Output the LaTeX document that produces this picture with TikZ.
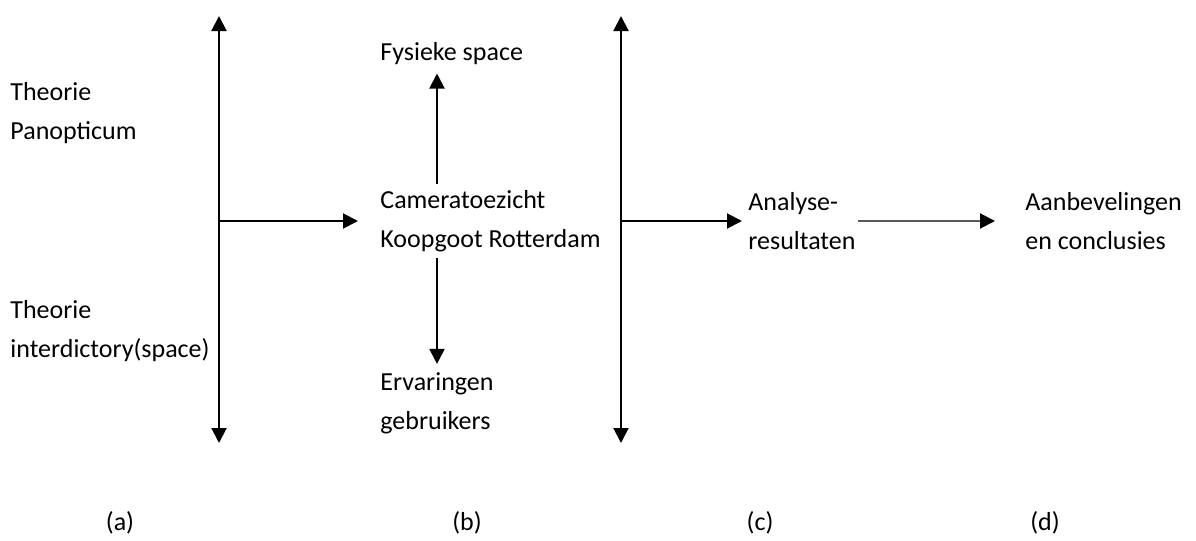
\documentclass[tikz,border=0pt]{standalone}
\usepackage{fontspec}
\setmainfont{Carlito}
\usetikzlibrary{arrows.meta}

\tikzset{
  lbl/.style={anchor=west, align=left, inner sep=0pt, font=\fontsize{13}{19.5}\selectfont},
  tag/.style={inner sep=0pt, font=\fontsize{13}{15}\selectfont},
  arr/.style={-{Triangle[length=7.5pt,width=7.5pt,color=black]}, line width=1pt},
  darr/.style={{Triangle[length=7.5pt,width=7.5pt]}-{Triangle[length=7.5pt,width=7.5pt]}, line width=1pt},
}

\begin{document}
\begin{tikzpicture}[x=0.5pt,y=-0.5pt]
  \useasboundingbox (0,0) rectangle (1196,541);

  % column (a)
  \node[lbl] (panop) at (10,113) {Theorie\\Panopticum};
  \node[lbl] (inter) at (10,331) {Theorie\\interdictory(space)};
  \coordinate (atop) at (219,16);
  \coordinate (abot) at (219,443);
  \coordinate (amid) at (219,221);

  % column (b)
  \node[lbl] (fys) at (380,54) {Fysieke space};
  \node[lbl] (cam) at (380,221) {Cameratoezicht\\Koopgoot Rotterdam};
  \node[lbl] (erv) at (380,403) {Ervaringen\\gebruikers};
  \coordinate (bx) at (437,0);

  % column (c) and (d)
  \coordinate (ctop) at (621,16);
  \coordinate (cbot) at (621,443);
  \coordinate (cmid) at (621,221);
  \node[lbl] (ana) at (748,221) {Analyse-\\resultaten};
  \node[lbl] (aanb) at (1025,221) {Aanbevelingen\\en conclusies};

  % labels
  \node[tag] (la) at (120,523) {(a)};
  \node[tag] (lb) at (467,523) {(b)};
  \node[tag] (lc) at (760,523) {(c)};
  \node[tag] (ld) at (1045,523) {(d)};

  % connectors
  \draw[darr] (atop) -- (abot);
  \draw[darr] (ctop) -- (cbot);
  \draw[arr, shorten >=11pt] (amid) -- (amid -| cam.west);
  \draw[arr, shorten >=3pt] (cmid) -- (cmid -| ana.west);
  \draw[arr, draw=black!65, shorten <=1pt, shorten >=15pt] (cmid -| ana.east) -- (cmid -| aanb.west);
  \draw[arr, shorten <=3pt, shorten >=4pt] (cam.north -| bx) -- (fys.south -| bx);
  \draw[arr, shorten <=3pt, shorten >=4pt] (cam.south -| bx) -- (erv.north -| bx);
\end{tikzpicture}
\end{document}
